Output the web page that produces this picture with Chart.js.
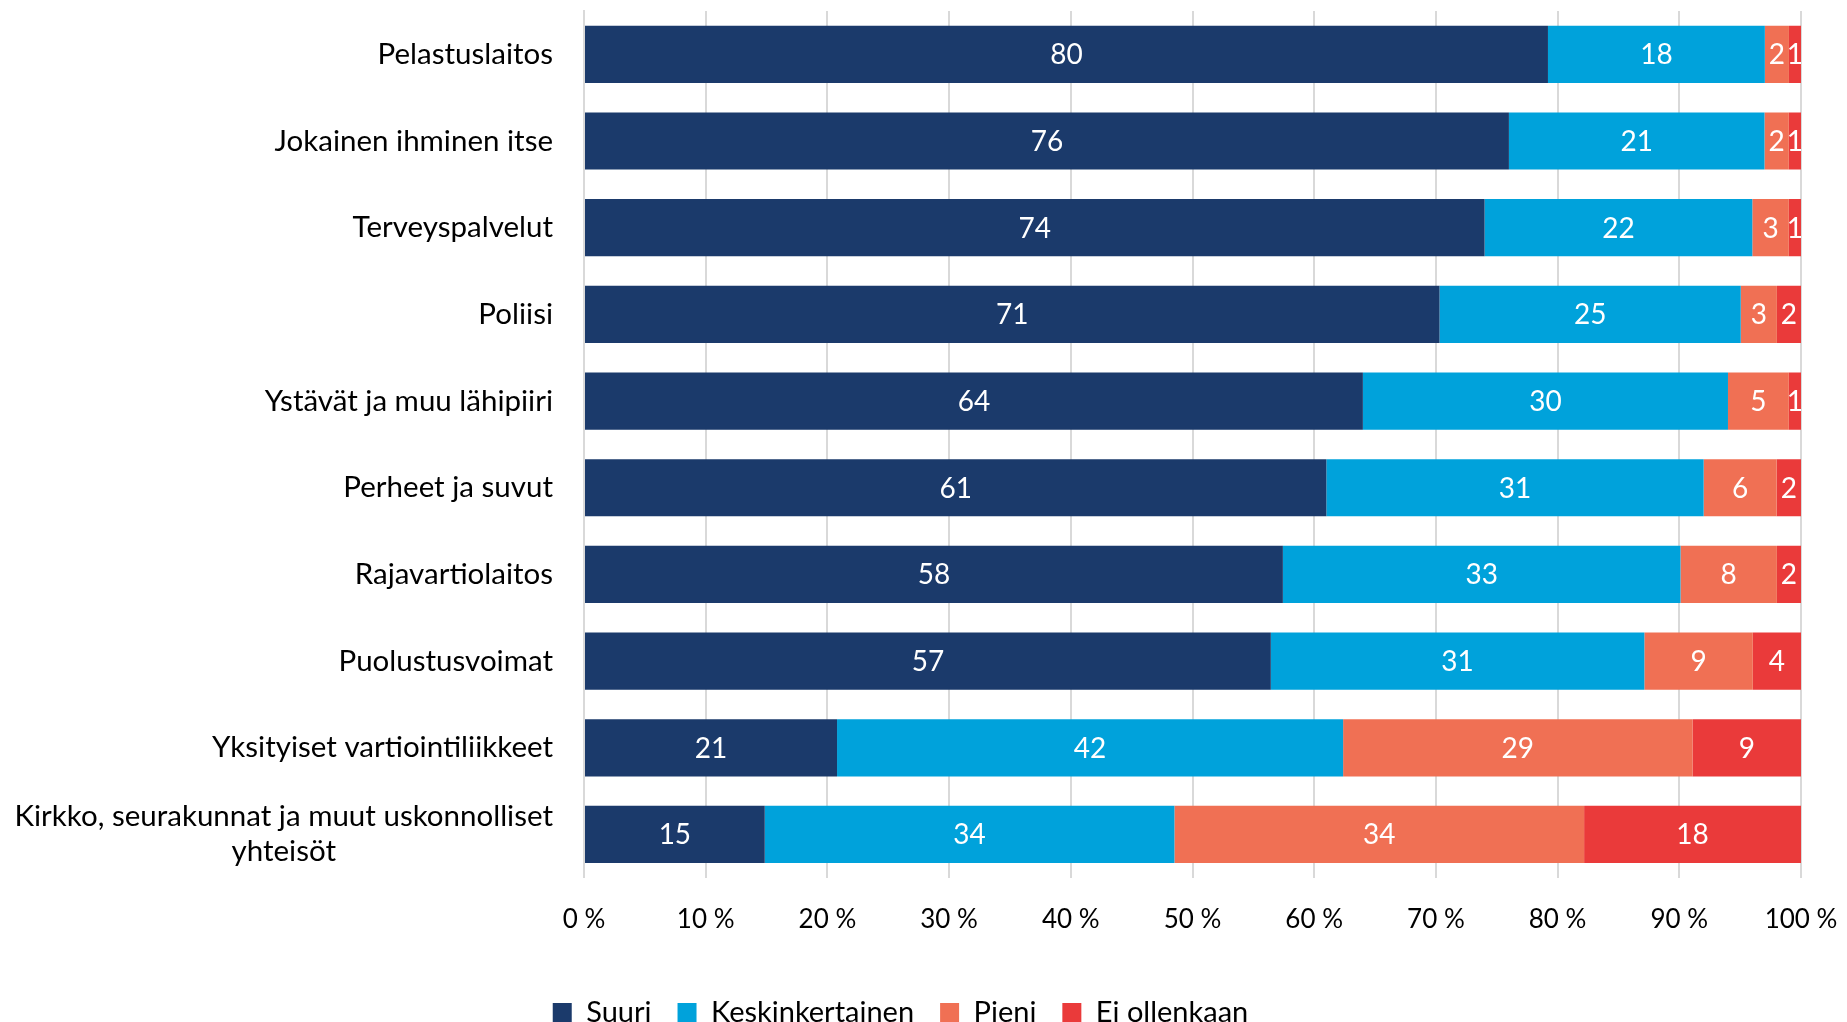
<!DOCTYPE html>
<html>
<head>
<meta charset="utf-8">
<script src="https://cdn.jsdelivr.net/npm/chart.js@4/dist/chart.umd.min.js"></script>
<style>
  html, body { margin: 0; padding: 0; background: #fff; overflow: hidden; }
  #wrap { position: relative; width: 1847px; height: 1037px; }
</style>
</head>
<body>
<div id="wrap"><canvas id="chart"></canvas></div>
<script>
// categories (top to bottom)
const categories = [
  'Pelastuslaitos',
  'Jokainen ihminen itse',
  'Terveyspalvelut',
  'Poliisi',
  'Ystävät ja muu lähipiiri',
  'Perheet ja suvut',
  'Rajavartiolaitos',
  'Puolustusvoimat',
  'Yksityiset vartiointiliikkeet',
  ['Kirkko, seurakunnat ja muut uskonnolliset', 'yhteisöt']
];

const suuri = [80, 76, 74, 71, 64, 61, 58, 57, 21, 15];
const keskinkertainen = [18, 21, 22, 25, 30, 31, 33, 31, 42, 34];
const pieni = [2, 2, 3, 3, 5, 6, 8, 9, 29, 34];
const eiOllenkaan = [1, 1, 1, 2, 1, 2, 2, 4, 9, 18];

const seriesNames = ['Suuri', 'Keskinkertainen', 'Pieni', 'Ei ollenkaan'];
const seriesColors = ['#1b3a6b', '#00a2db', '#f07054', '#ea3a3a'];
const xTicks = [0, 10, 20, 30, 40, 50, 60, 70, 80, 90, 100];

const FONT = 'Lato, "Open Sans", sans-serif';
const allSeries = [suuri, keskinkertainen, pieni, eiOllenkaan];

// 100 % stacked: each row scaled to its total
const totals = categories.map((c, i) => allSeries.reduce((s, arr) => s + arr[i], 0));
const datasets = allSeries.map((arr, k) => ({
  label: seriesNames[k],
  data: arr.map((v, i) => v / totals[i] * 100),
  raw: arr,
  backgroundColor: seriesColors[k],
  borderWidth: 0,
  barPercentage: 0.66,
  categoryPercentage: 1.0
}));

// values inside the segments
const valueLabels = {
  id: 'valueLabels',
  afterDatasetsDraw(chart) {
    const ctx = chart.ctx;
    ctx.save();
    ctx.font = '28px ' + FONT;
    ctx.fillStyle = '#ffffff';
    ctx.textAlign = 'center';
    ctx.textBaseline = 'middle';
    chart.data.datasets.forEach((ds, k) => {
      chart.getDatasetMeta(k).data.forEach((bar, i) => {
        const cx = (bar.x + bar.base) / 2;
        ctx.fillText(String(ds.raw[i]), cx, bar.y + 1);
      });
    });
    ctx.restore();
  }
};

// category labels, wrapped lines centred like in Excel
const catLabels = {
  id: 'catLabels',
  afterDraw(chart) {
    const ctx = chart.ctx;
    const yScale = chart.scales.y;
    const right = chart.chartArea.left - 31;
    ctx.save();
    ctx.font = '29.5px ' + FONT;
    ctx.fillStyle = '#000000';
    ctx.textBaseline = 'middle';
    ctx.textAlign = 'center';
    categories.forEach((lab, i) => {
      const lines = Array.isArray(lab) ? lab : [lab];
      const w = Math.max(...lines.map(l => ctx.measureText(l).width));
      const cx = right - w / 2;
      const y = yScale.getPixelForTick(i);
      const lh = 35;
      lines.forEach((l, j) => {
        ctx.fillText(l, cx, y + (j - (lines.length - 1) / 2) * lh);
      });
    });
    ctx.restore();
  }
};

new Chart(document.getElementById('chart'), {
  type: 'bar',
  data: { labels: categories, datasets: datasets },
  options: {
    indexAxis: 'y',
    responsive: true,
    maintainAspectRatio: false,
    animation: false,
    layout: { padding: { top: 11, right: 46, left: 0, bottom: 0 } },
    scales: {
      x: {
        stacked: true,
        min: 0,
        max: 100,
        afterBuildTicks: scale => { scale.ticks = xTicks.map(v => ({ value: v })); },
        afterFit: scale => { scale.height += 34; },
        grid: { color: '#d9d9d9', lineWidth: 2, drawTicks: true, tickLength: 23, tickColor: 'rgba(0,0,0,0)' },
        border: { display: false },
        ticks: {
          padding: 3,
          color: '#000',
          font: { family: FONT, size: 26 },
          callback: v => v + ' %'
        }
      },
      y: {
        stacked: true,
        afterFit: scale => { scale.width = 584; },
        grid: { display: false, drawTicks: false },
        border: { display: true, color: '#d9d9d9', width: 2 },
        ticks: { display: false }
      }
    },
    plugins: {
      legend: {
        position: 'bottom',
        labels: {
          color: '#000',
          font: { family: FONT, size: 29 },
          boxWidth: 19,
          boxHeight: 19,
          padding: 26
        }
      },
      tooltip: { enabled: false }
    }
  },
  plugins: [valueLabels, catLabels]
});
</script>
</body>
</html>
